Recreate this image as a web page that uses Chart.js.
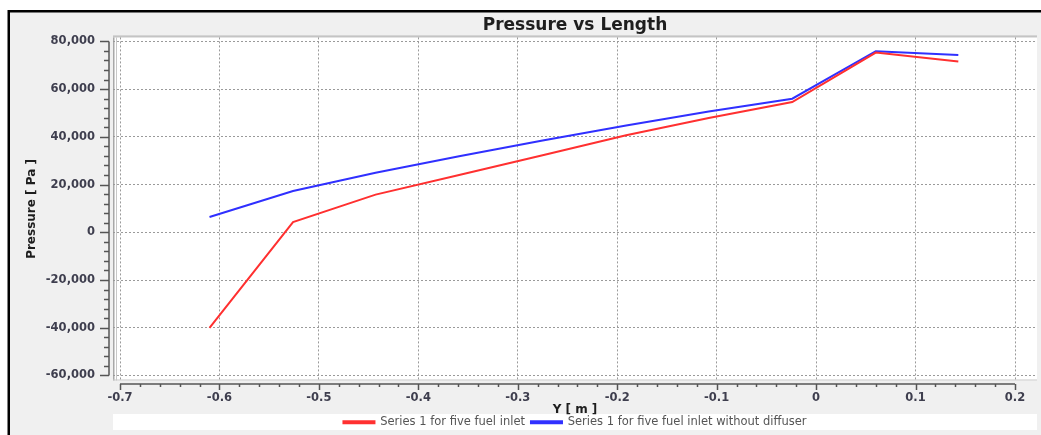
<!DOCTYPE html>
<html>
<head>
<meta charset="utf-8">
<script src="https://cdn.jsdelivr.net/npm/chart.js@4/dist/chart.umd.min.js"></script>
<style>
  html, body { margin: 0; padding: 0; background: #ffffff; }
  #wrap { position: relative; width: 1041px; height: 435px; }
  canvas { display: block; }
</style>
</head>
<body>
<div id="wrap"><canvas id="c" width="1041" height="435"></canvas></div>
<script>
// ---- data ----
const xPositions = [-0.61, -0.526, -0.443, -0.359, -0.275, -0.191, -0.108, -0.024, 0.060, 0.143];
const seriesWithDiffuser = [-40000, 4300, 15800, 24000, 32300, 40700, 47900, 54600, 75300, 71600];
const seriesWithoutDiffuser = [6400, 17300, 25000, 31900, 38500, 44800, 50600, 56000, 75900, 74300];
const seriesNames = ['Series 1 for five fuel inlet', 'Series 1 for five fuel inlet without diffuser'];
const xTickValues = [-0.7, -0.6, -0.5, -0.4, -0.3, -0.2, -0.1, 0, 0.1, 0.2];
const xTickLabels = ['-0.7', '-0.6', '-0.5', '-0.4', '-0.3', '-0.2', '-0.1', '0', '0.1', '0.2'];
const yTickValues = [-60000, -40000, -20000, 0, 20000, 40000, 60000, 80000];
const yTickLabels = ['-60,000', '-40,000', '-20,000', '0', '20,000', '40,000', '60,000', '80,000'];

const FONT = 'DejaVu Sans, Verdana, sans-serif';
const LABEL_COLOR = '#3e3e4e';

const toPoints = (ys) => xPositions.map((x, i) => ({ x: x, y: ys[i] }));

const framePlugin = {
  id: 'frame',
  beforeDraw(chart) {
    const ctx = chart.ctx;
    const a = chart.chartArea;
    const W = chart.width, H = chart.height;
    ctx.save();
    ctx.fillStyle = '#ffffff';
    ctx.fillRect(0, 0, W, H);
    ctx.fillStyle = '#f0f0f0';
    ctx.fillRect(9, 12, W - 9, H - 12);
    ctx.fillStyle = '#000000';
    ctx.fillRect(8, 10, W - 8, 2.5);
    ctx.fillRect(7.5, 10, 2.5, H - 10);
    // plot area
    ctx.fillStyle = '#ffffff';
    ctx.fillRect(a.left, a.top, a.right - a.left, a.bottom - a.top);
    // plot borders
    ctx.fillStyle = '#c4c4c4';
    ctx.fillRect(a.left, a.top - 2, a.right - a.left, 2);
    ctx.fillStyle = '#a8a8a8';
    ctx.fillRect(a.left, a.top, 1.5, a.bottom - a.top);
    ctx.fillStyle = '#c8c8c8';
    ctx.fillRect(a.left + 3, a.top, 1, a.bottom - a.top);
    ctx.fillRect(a.left, a.bottom - 1, a.right - a.left, 1);
    // legend background
    ctx.fillStyle = '#ffffff';
    ctx.fillRect(a.left, 414, a.right - a.left, 16);
    ctx.restore();
  },
  afterDraw(chart) {
    const ctx = chart.ctx;
    const xs = chart.scales.x, ys = chart.scales.y;
    ctx.save();
    ctx.strokeStyle = '#555555';
    ctx.lineWidth = 1.5;
    // x axis line + ticks
    const axY = chart.chartArea.bottom + 3.5;
    const x0 = xs.getPixelForValue(xTickValues[0]);
    const x1 = xs.getPixelForValue(xTickValues[xTickValues.length - 1]);
    ctx.beginPath();
    ctx.moveTo(x0, axY); ctx.lineTo(x1, axY);
    for (let i = 0; i < xTickValues.length; i++) {
      const px = Math.round(xs.getPixelForValue(xTickValues[i])) + 0.5;
      ctx.moveTo(px, axY); ctx.lineTo(px, axY + 6);
      if (i < xTickValues.length - 1) {
        const step = (xTickValues[i + 1] - xTickValues[i]) / 5;
        for (let k = 1; k < 5; k++) {
          const mp = Math.round(xs.getPixelForValue(xTickValues[i] + k * step)) + 0.5;
          ctx.moveTo(mp, axY); ctx.lineTo(mp, axY + 3);
        }
      }
    }
    ctx.stroke();
    // y axis line + ticks
    const axX = chart.chartArea.left - 4;
    const y0 = ys.getPixelForValue(yTickValues[0]);
    const y1 = ys.getPixelForValue(yTickValues[yTickValues.length - 1]);
    ctx.beginPath();
    ctx.moveTo(axX, y0); ctx.lineTo(axX, y1);
    for (let i = 0; i < yTickValues.length; i++) {
      const py = Math.round(ys.getPixelForValue(yTickValues[i])) + 0.5;
      ctx.moveTo(axX, py); ctx.lineTo(axX - 9, py);
      if (i < yTickValues.length - 1) {
        const step = (yTickValues[i + 1] - yTickValues[i]) / 5;
        for (let k = 1; k < 5; k++) {
          const mp = Math.round(ys.getPixelForValue(yTickValues[i] + k * step)) + 0.5;
          ctx.moveTo(axX, mp); ctx.lineTo(axX - 5, mp);
        }
      }
    }
    ctx.stroke();
    ctx.restore();
  }
};

new Chart(document.getElementById('c'), {
  type: 'line',
  data: {
    datasets: [
      { label: seriesNames[0], data: toPoints(seriesWithDiffuser), borderColor: '#ff3030', backgroundColor: '#ff3030',
        borderWidth: 2, pointRadius: 0, tension: 0, fill: false },
      { label: seriesNames[1], data: toPoints(seriesWithoutDiffuser), borderColor: '#3030ff', backgroundColor: '#3030ff',
        borderWidth: 2, pointRadius: 0, tension: 0, fill: false }
    ]
  },
  options: {
    responsive: false,
    animation: false,
    devicePixelRatio: 1,
    layout: { padding: { left: 10, right: 4, top: 12, bottom: -3 } },
    plugins: {
      title: {
        display: true, text: 'Pressure vs Length', fullSize: false,
        color: '#1e1e1e', font: { family: FONT, size: 17, weight: 'bold' },
        padding: { top: 3.5, bottom: 1.5 }
      },
      legend: {
        display: true, position: 'bottom', fullSize: false,
        labels: {
          color: '#555555', font: { family: FONT, size: 11.5 },
          boxWidth: 31, boxHeight: 2, padding: 6
        }
      },
      tooltip: { enabled: false }
    },
    scales: {
      x: {
        type: 'linear', position: 'bottom',
        min: -0.70704, max: 0.22212,
        afterBuildTicks: (s) => { s.ticks = xTickValues.map(v => ({ value: v })); },
        afterFit: (s) => { s.height = 30; },
        ticks: {
          color: LABEL_COLOR, font: { family: FONT, size: 11.5, weight: 'bold' }, padding: 11,
          maxRotation: 0, autoSkip: false,
          callback: (v, i) => xTickLabels[i]
        },
        grid: { display: true, drawTicks: false, color: '#9a9a9a', lineWidth: 1 },
        border: { display: false, dash: [2, 2] },
        title: { display: true, text: 'Y [ m ]', color: '#1e1e1e', font: { family: FONT, size: 12, weight: 'bold' }, padding: { top: 0, bottom: -6.5 } }
      },
      y: {
        type: 'linear', position: 'left',
        min: -62096, max: 81677,
        afterBuildTicks: (s) => { s.ticks = yTickValues.map(v => ({ value: v })); },
        afterFit: (s) => { s.width = 103; },
        ticks: {
          color: LABEL_COLOR, font: { family: FONT, size: 11.5, weight: 'bold' }, padding: 18,
          autoSkip: false,
          callback: (v, i) => yTickLabels[i]
        },
        grid: { display: true, drawTicks: false, color: '#9a9a9a', lineWidth: 1 },
        border: { display: false, dash: [2, 2] },
        title: { display: true, text: 'Pressure [ Pa ]', color: '#1e1e1e', font: { family: FONT, size: 12, weight: 'bold' }, padding: { top: 15, bottom: 0 } }
      }
    }
  },
  plugins: [framePlugin]
});
</script>
</body>
</html>
